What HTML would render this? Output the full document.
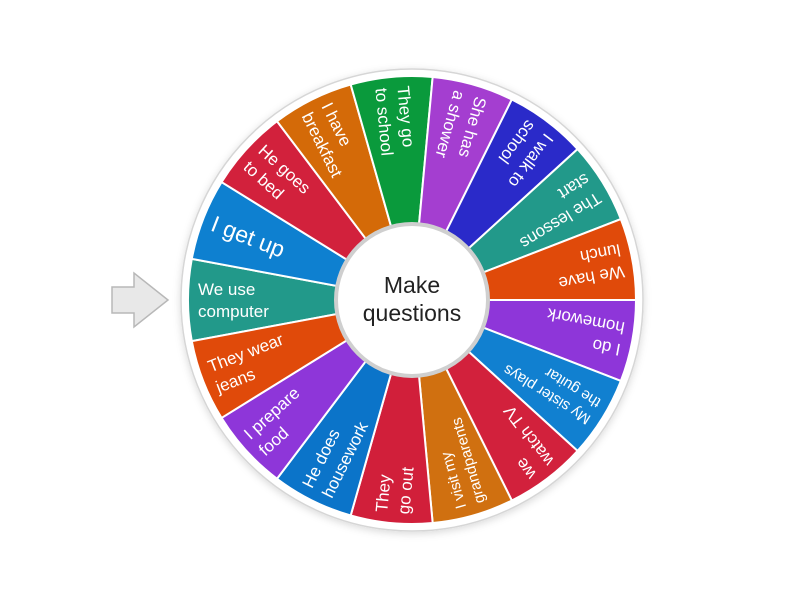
<!DOCTYPE html>
<html><head><meta charset="utf-8"><style>
html,body{margin:0;padding:0;background:#fff;}
svg{display:block;}
text{font-family:"Liberation Sans",sans-serif;fill:#fff;}
</style></head><body>
<svg width="800" height="600" viewBox="0 0 800 600" id="s">
<defs><filter id="sh" x="-20%" y="-20%" width="140%" height="140%"><feDropShadow dx="0" dy="2" stdDeviation="4" flood-color="#000" flood-opacity="0.15"/></filter></defs>
<polygon points="112,287 134,287 134,273 168,300 134,327 134,313 112,313" fill="#e8e8e8" stroke="#b8b8b8" stroke-width="1.5"/>
<circle cx="412" cy="300" r="231" fill="#fff" stroke="#d6d6d6" stroke-width="1.5" filter="url(#sh)"/>
<g id="segs"></g>
<circle cx="412" cy="300" r="76" fill="#fff" stroke="#cfcfcf" stroke-width="4"/>
<text x="412" y="293" text-anchor="middle" font-size="23" style="fill:#222">Make</text>
<text x="412" y="321" text-anchor="middle" font-size="23" style="fill:#222">questions</text>
</svg>
<script>
var d=[["#22998a",["We use","computer"]],["#0e80d0",["I get up"],23],["#d2213c",["He goes","to bed"]],["#d46a08",["I have","breakfast"]],["#0a9a3c",["They go","to school"]],["#a43ed0",["She has","a shower"]],["#2a2ac9",["I walk to","school"]],["#22998a",["The lessons","start"]],["#e04a0a",["We have","lunch"]],["#8e36d9",["I do","homework"]],["#1180d0",["My sister plays","the guitar"],15],["#d2213c",["we","watch TV"]],["#d07010",["I visit my","grandparents"],15],["#d11f3a",["They","go out"]],["#0b74c9",["He does","housework"]],["#8e36d9",["I prepare","food"]],["#e04a0a",["They wear","jeans"]]];
var n=d.length,st=360/n,cx=412,cy=300,R=224,g=document.getElementById('segs'),h='';
function p(a,r){a=a*Math.PI/180;return (cx+r*Math.cos(a)).toFixed(2)+','+(cy+r*Math.sin(a)).toFixed(2);}
for(var i=0;i<n;i++){var c=180+i*st,a0=c-st/2,a1=c+st/2;
h+='<path d="M'+cx+','+cy+' L'+p(a0,R)+' A'+R+','+R+' 0 0 1 '+p(a1,R)+' Z" fill="'+d[i][0]+'" stroke="#fff" stroke-width="2"/>';
var fs=d[i][2]||17,L=d[i][1],lh=fs*1.3;
h+='<g transform="translate('+cx+','+cy+') rotate('+(c-180)+')">';
for(var j=0;j<L.length;j++){var y=(j-(L.length-1)/2)*lh+fs*0.35;h+='<text x="-214" y="'+y.toFixed(1)+'" font-size="'+fs+'">'+L[j]+'</text>';}
h+='</g>';}
g.innerHTML=h;
</script>
</body></html>
